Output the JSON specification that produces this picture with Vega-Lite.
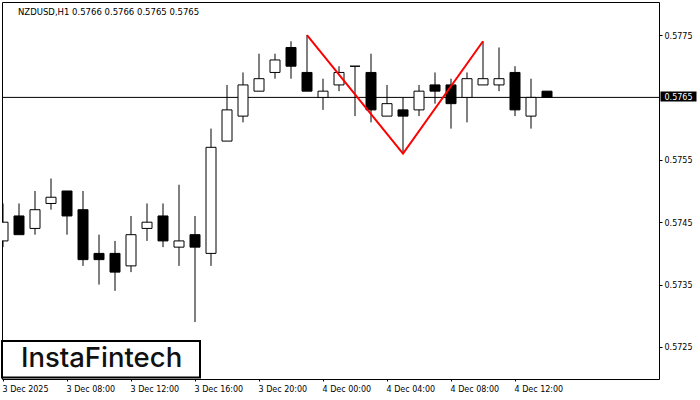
{"$schema":"https://vega.github.io/schema/vega-lite/v6.json","width":657,"height":377,"autosize":"none","padding":{"left":2,"top":2,"right":41,"bottom":21},"background":"white","config":{"view":{"stroke":"black","strokeWidth":1},"font":"DejaVu Sans"},
"title":{"text":"NZDUSD,H1  0.5766 0.5766 0.5765 0.5765","anchor":"start","frame":"group","offset":-14,"dx":16,"fontWeight":"normal","font":"DejaVu Sans","fontSize":8.5,"color":"black"},
"datasets":{"candles":[
{"t":"2025-12-03T04:00:00Z","o":0.5742,"h":0.5748,"l":0.5741,"c":0.5745,"dir":"up"},
{"t":"2025-12-03T05:00:00Z","o":0.5746,"h":0.5748,"l":0.5743,"c":0.5743,"dir":"down"},
{"t":"2025-12-03T06:00:00Z","o":0.5744,"h":0.5750,"l":0.5743,"c":0.5747,"dir":"up"},
{"t":"2025-12-03T07:00:00Z","o":0.5748,"h":0.5752,"l":0.5747,"c":0.5749,"dir":"up"},
{"t":"2025-12-03T08:00:00Z","o":0.5750,"h":0.5750,"l":0.5743,"c":0.5746,"dir":"down"},
{"t":"2025-12-03T09:00:00Z","o":0.5747,"h":0.5750,"l":0.5738,"c":0.5739,"dir":"down"},
{"t":"2025-12-03T10:00:00Z","o":0.5740,"h":0.5743,"l":0.5735,"c":0.5739,"dir":"down"},
{"t":"2025-12-03T11:00:00Z","o":0.5740,"h":0.5742,"l":0.5734,"c":0.5737,"dir":"down"},
{"t":"2025-12-03T12:00:00Z","o":0.5738,"h":0.5746,"l":0.5737,"c":0.5743,"dir":"up"},
{"t":"2025-12-03T13:00:00Z","o":0.5744,"h":0.5748,"l":0.5742,"c":0.5745,"dir":"up"},
{"t":"2025-12-03T14:00:00Z","o":0.5746,"h":0.5748,"l":0.5741,"c":0.5742,"dir":"down"},
{"t":"2025-12-03T15:00:00Z","o":0.5741,"h":0.5751,"l":0.5738,"c":0.5742,"dir":"up"},
{"t":"2025-12-03T16:00:00Z","o":0.5743,"h":0.5746,"l":0.5729,"c":0.5741,"dir":"down"},
{"t":"2025-12-03T17:00:00Z","o":0.5740,"h":0.5760,"l":0.5738,"c":0.5757,"dir":"up"},
{"t":"2025-12-03T18:00:00Z","o":0.5758,"h":0.5767,"l":0.5758,"c":0.5763,"dir":"up"},
{"t":"2025-12-03T19:00:00Z","o":0.5762,"h":0.5769,"l":0.5761,"c":0.5767,"dir":"up"},
{"t":"2025-12-03T20:00:00Z","o":0.5766,"h":0.5772,"l":0.5766,"c":0.5768,"dir":"up"},
{"t":"2025-12-03T21:00:00Z","o":0.5769,"h":0.5772,"l":0.5768,"c":0.5771,"dir":"up"},
{"t":"2025-12-03T22:00:00Z","o":0.5773,"h":0.5774,"l":0.5768,"c":0.5770,"dir":"down"},
{"t":"2025-12-03T23:00:00Z","o":0.5769,"h":0.5775,"l":0.5766,"c":0.5766,"dir":"down"},
{"t":"2025-12-04T00:00:00Z","o":0.5765,"h":0.5768,"l":0.5763,"c":0.5766,"dir":"up"},
{"t":"2025-12-04T01:00:00Z","o":0.5767,"h":0.5770,"l":0.5766,"c":0.5769,"dir":"up"},
{"t":"2025-12-04T02:00:00Z","o":0.5770,"h":0.5770,"l":0.5762,"c":0.5770,"dir":"up"},
{"t":"2025-12-04T03:00:00Z","o":0.5769,"h":0.5772,"l":0.5761,"c":0.5763,"dir":"down"},
{"t":"2025-12-04T04:00:00Z","o":0.5762,"h":0.5767,"l":0.5762,"c":0.5764,"dir":"up"},
{"t":"2025-12-04T05:00:00Z","o":0.5763,"h":0.5765,"l":0.5756,"c":0.5762,"dir":"down"},
{"t":"2025-12-04T06:00:00Z","o":0.5763,"h":0.5767,"l":0.5762,"c":0.5766,"dir":"up"},
{"t":"2025-12-04T07:00:00Z","o":0.5767,"h":0.5769,"l":0.5764,"c":0.5766,"dir":"down"},
{"t":"2025-12-04T08:00:00Z","o":0.5767,"h":0.5768,"l":0.5760,"c":0.5764,"dir":"down"},
{"t":"2025-12-04T09:00:00Z","o":0.5765,"h":0.5769,"l":0.5761,"c":0.5768,"dir":"up"},
{"t":"2025-12-04T10:00:00Z","o":0.5767,"h":0.5774,"l":0.5767,"c":0.5768,"dir":"up"},
{"t":"2025-12-04T11:00:00Z","o":0.5767,"h":0.5773,"l":0.5766,"c":0.5768,"dir":"up"},
{"t":"2025-12-04T12:00:00Z","o":0.5769,"h":0.5770,"l":0.5762,"c":0.5763,"dir":"down"},
{"t":"2025-12-04T13:00:00Z","o":0.5762,"h":0.5768,"l":0.5760,"c":0.5765,"dir":"up"},
{"t":"2025-12-04T14:00:00Z","o":0.5766,"h":0.5766,"l":0.5765,"c":0.5765,"dir":"down"}
],
"pattern":[
{"t":"2025-12-03T23:00:00Z","p":0.5775},
{"t":"2025-12-04T05:00:00Z","p":0.5756},
{"t":"2025-12-04T10:00:00Z","p":0.5774}
]},
"encoding":{"x":{"field":"t","type":"temporal"}},
"layer":[
{"data":{"values":[{"price":0.5765}]},"mark":{"type":"rule","color":"black","strokeWidth":1},"encoding":{"x":{"value":0},"x2":{"value":657},"y":{"field":"price","type":"quantitative"}}},
{"data":{"name":"candles"},"mark":{"type":"rule","color":"black","strokeWidth":1,"clip":true},"encoding":{
"x":{"field":"t","type":"temporal","title":null,"scale":{"type":"utc","domain":[1764734175000,1764882000000],"padding":0,"nice":false},"axis":{"values":[1764734400000,1764748800000,1764763200000,1764777600000,1764792000000,1764806400000,1764820800000,1764835200000,1764849600000],"labelExpr":"utcFormat(datum.value,'%d%H') == '0304' && datum.index == 0 ? '3 Dec 2025' : utcFormat(datum.value,'%-d %b %H:%M')","labelAlign":"left","labelBaseline":"middle","labelPadding":8,"labelOffset":-1,"labelFont":"DejaVu Sans","labelFontSize":8,"labelColor":"black","labelFlush":false,"labelOverlap":false,"tickColor":"black","tickSize":2,"domain":false,"grid":false}},
"y":{"field":"l","type":"quantitative","title":null,"scale":{"domain":[0.571987,0.578029],"nice":false,"zero":false},"axis":{"orient":"right","values":[0.5725,0.5735,0.5745,0.5755,0.5775],"format":".4f","labelFont":"DejaVu Sans","labelFontSize":8,"labelColor":"black","labelPadding":2,"labelOffset":1,"tickColor":"black","tickSize":3,"domain":false,"grid":false}},
"y2":{"field":"h"}}},
{"data":{"name":"candles"},"mark":{"type":"bar","size":10,"stroke":"black","strokeWidth":1,"clip":true},"encoding":{
"y":{"field":"o","type":"quantitative"},"y2":{"field":"c"},
"fill":{"field":"dir","type":"nominal","scale":{"domain":["up","down"],"range":["white","black"]},"legend":null}}},
{"data":{"name":"pattern"},"mark":{"type":"line","color":"#ff0000","strokeWidth":2},"encoding":{"y":{"field":"p","type":"quantitative"}}},
{"data":{"values":[{"a":1764734175000,"b":1764778725000,"y0":0.572596,"y1":0.572011}]},"mark":{"type":"rect","fill":"white","stroke":"black","strokeWidth":2},"encoding":{"x":{"field":"a","type":"temporal"},"x2":{"field":"b"},"y":{"field":"y0","type":"quantitative"},"y2":{"field":"y1"}}},
{"data":{"values":[{"xt":1764756570000,"yp":0.5723,"label":"InstaFintech"}]},"mark":{"type":"text","font":"Inter","fontSize":27.5,"fontWeight":500,"color":"#111111","align":"center","baseline":"middle"},"encoding":{"x":{"field":"xt","type":"temporal"},"y":{"field":"yp","type":"quantitative"},"text":{"field":"label"}}},
{"data":{"values":[{"a":1764882337000,"b":1764890437000,"y0":0.576595,"y1":0.576434}]},"mark":{"type":"rect","fill":"black"},"encoding":{"x":{"field":"a","type":"temporal"},"x2":{"field":"b"},"y":{"field":"y0","type":"quantitative"},"y2":{"field":"y1"}}},
{"data":{"values":[{"xt":1764883237000,"yp":0.5765,"label":"0.5765"}]},"mark":{"type":"text","font":"DejaVu Sans","fontSize":8,"dy":0.5,"color":"white","align":"left","baseline":"middle"},"encoding":{"x":{"field":"xt","type":"temporal"},"y":{"field":"yp","type":"quantitative"},"text":{"field":"label"}}}
]}
